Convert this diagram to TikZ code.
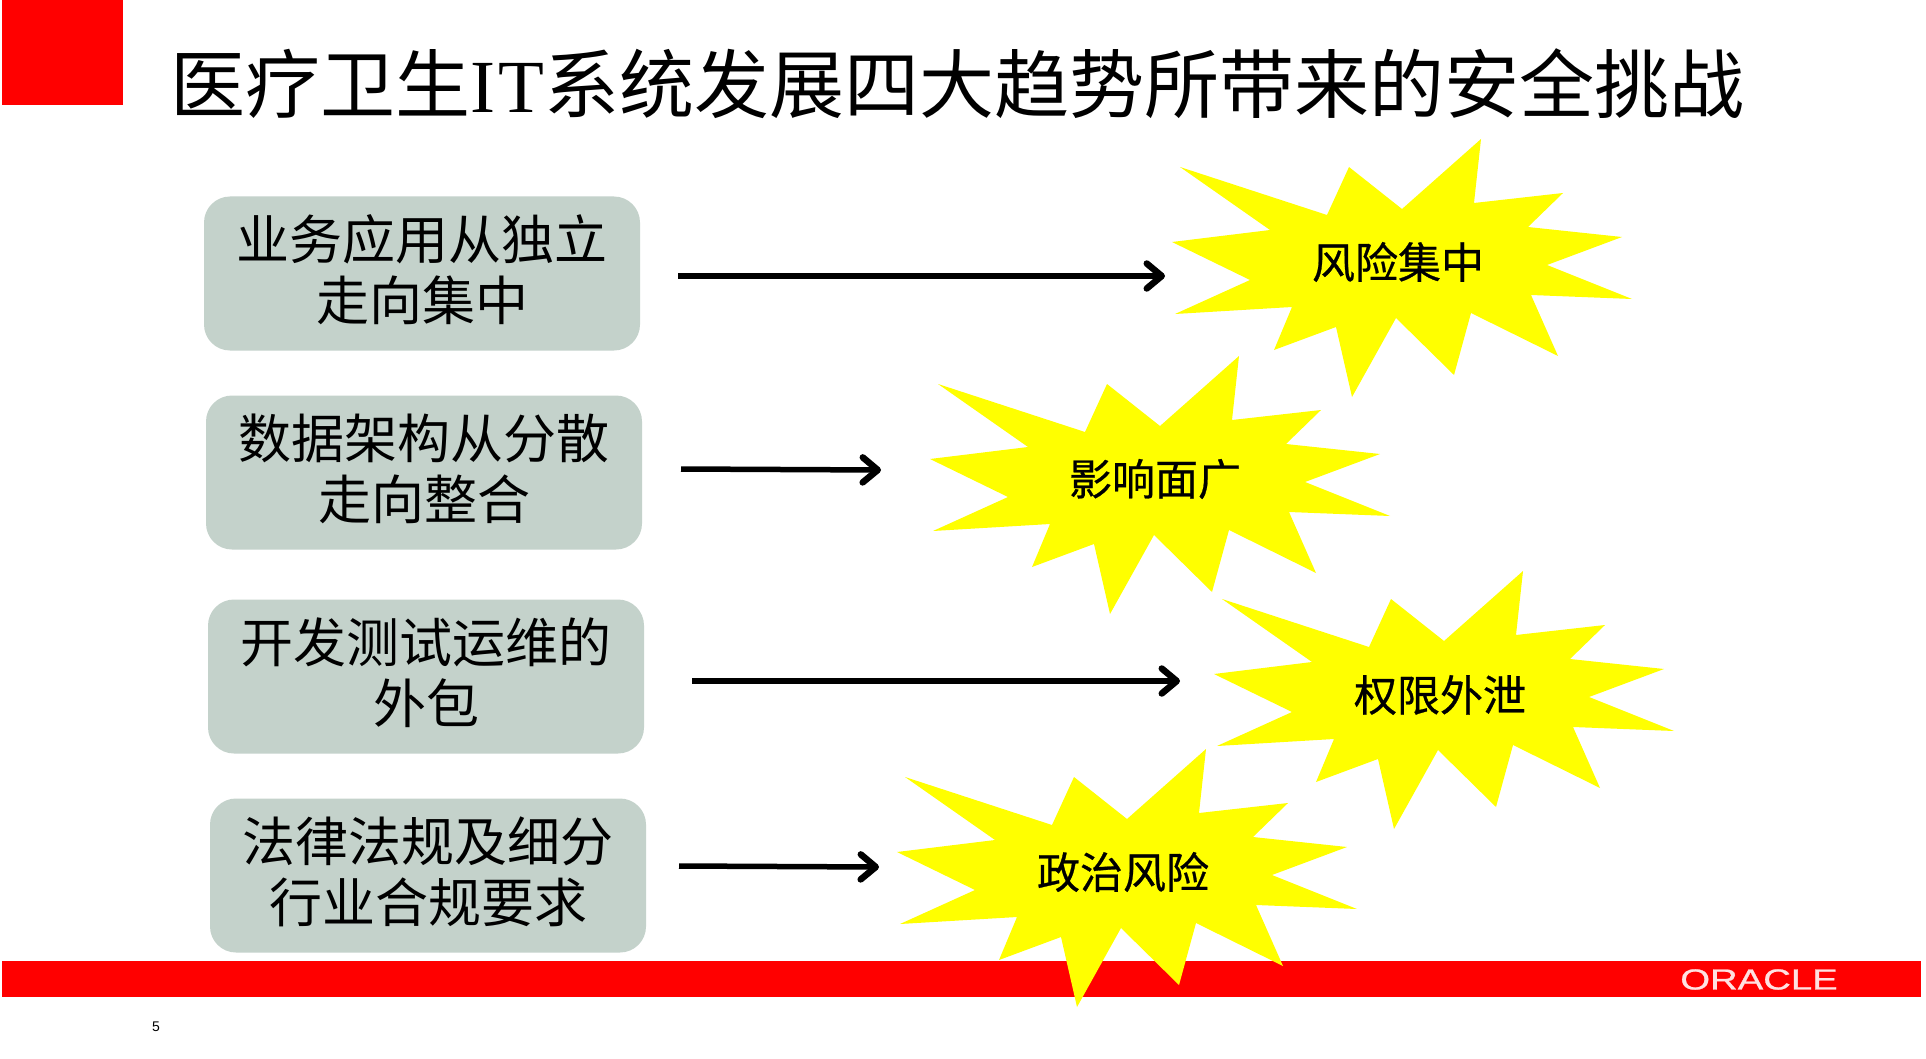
\documentclass[tikz,border=0pt]{standalone}
\usepackage{fontspec}
\setmainfont{Noto Sans CJK SC}
\newfontfamily\latinserif{Liberation Serif}
\newfontfamily\logosans[FakeBold=0.8]{Liberation Sans}
\newfontfamily\latinsans{Liberation Sans}
\newfontfamily\semibold[FakeBold=0.6]{Noto Sans CJK SC}
\usetikzlibrary{arrows.meta}
\definecolor{oraclered}{RGB}{255,0,0}
\definecolor{burst}{RGB}{255,255,0}
\definecolor{boxgrey}{RGB}{196,210,203}
\definecolor{logowhite}{RGB}{255,225,225}
\newcommand{\starshape}[2]{%
  \fill[burst,shift={(#1,#2)}]
  (1180,167) -- (1327,215) -- (1349,167) -- (1402,209) -- (1481,139) -- (1474,203)
  -- (1563,193) -- (1528,227) -- (1622,237) -- (1547,265) -- (1632,299) -- (1531,295)
  -- (1558,356) -- (1471,313) -- (1454,375) -- (1396,318) -- (1352,397) -- (1336,327)
  -- (1274,350) -- (1292,307) -- (1175,314) -- (1250,280) -- (1172,242) -- (1270,230) -- cycle;}
\tikzset{
  titletext/.style={font=\fontsize{75}{75}\selectfont,anchor=center,inner sep=0pt},
  itembox/.style={fill=boxgrey,rounded corners=26pt,minimum width=436pt,minimum height=154pt,inner sep=0pt},
  itemtext/.style={inner sep=0pt,align=center,font=\fontsize{53}{61}\selectfont},
  startext/.style={font=\fontsize{43}{43}\selectfont,inner sep=0pt},
  flowarrow/.style={line width=5.5pt,-{Straight Barb[length=15pt,width=25pt,line width=6.5pt,round]}},
}
\begin{document}
\begin{tikzpicture}[x=1pt,y=-1pt]
\useasboundingbox (0,0) rectangle (1926,1059);
\fill[white] (0,0) rectangle (1926,1059);
\fill[oraclered] (2,0) rectangle (123,105);
\fill[oraclered] (2,961) rectangle (1921,997);
\node[titletext] (title) at (957.5,84) {医疗卫生{\latinserif I\kern3pt T}系统发展四大趋势所带来的安全挑战};
\node[itembox] (b1) at (422,273.5) {};
\node[itembox] (b2) at (424,472.5) {};
\node[itembox] (b3) at (426,676.5) {};
\node[itembox] (b4) at (428,875.5) {};
\node[itemtext] (t1) at (422,270) {业务应用从独立\\走向集中};
\node[itemtext] (t2) at (424,469) {数据架构从分散\\走向整合};
\node[itemtext] (t3) at (426,673) {开发测试运维的\\外包};
\node[itemtext] (t4) at (428,872) {法律法规及细分\\行业合规要求};
\starshape{0}{0}
\starshape{-242}{217}
\starshape{42}{432}
\starshape{-275}{610}
\node[startext] (s1) at (1398,262) {\semibold 风险集中};
\node[startext] (s2) at (1155,479) {\semibold 影响面广};
\node[startext] (s3) at (1440,695) {\semibold 权限外泄};
\node[startext] (s4) at (1123,872) {\semibold 政治风险};
\coordinate (a1s) at (678,276); \coordinate (a1e) at (1165,276);
\coordinate (a2s) at (681,469); \coordinate (a2e) at (881,470);
\coordinate (a3s) at (692,681); \coordinate (a3e) at (1180,681);
\coordinate (a4s) at (679,866); \coordinate (a4e) at (879,867);
\draw[flowarrow] (a1s) -- (a1e);
\draw[flowarrow] (a2s) -- (a2e);
\draw[flowarrow] (a3s) -- (a3e);
\draw[flowarrow] (a4s) -- (a4e);
\node[inner sep=0pt,text=logowhite,font=\logosans\fontsize{29}{29}\selectfont,xscale=1.32] (logo) at (1759,979.5) {ORACLE};
\node[inner sep=0pt,font=\latinsans\fontsize{14}{14}\selectfont] (page) at (156,1026.5) {5};
\end{tikzpicture}
\end{document}
